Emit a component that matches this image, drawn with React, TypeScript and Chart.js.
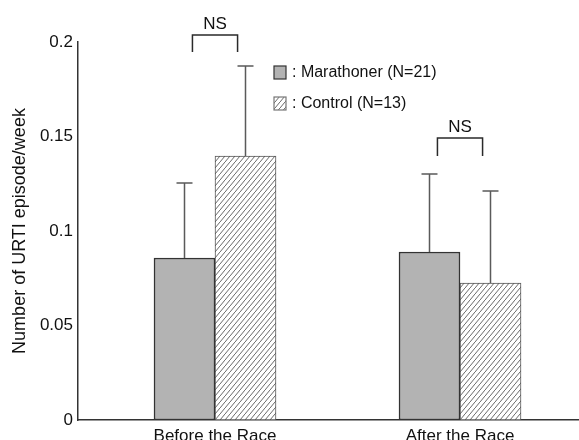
import React, { useEffect, useRef } from 'react';
import { Chart, registerables } from 'chart.js';

Chart.register(...registerables);

const categories = ['Before the Race', 'After the Race'];
const seriesNames = ['Marathoner (N=21)', 'Control (N=13)'];
const marathoner = [0.0857, 0.0889];
const control = [0.1397, 0.0725];
const marathonerErrTop = [0.1254, 0.1302];
const controlErrTop = [0.1873, 0.1212];
const yTicks = [0, 0.05, 0.1, 0.15, 0.2];
const sigLabels = ['NS', 'NS'];
const sigBracketTop = [0.2037, 0.1492];
const sigBracketLeg = [0.1947, 0.1397];

const FONT = "'Liberation Sans', Arial, Helvetica, sans-serif";
const GRAY = '#b3b3b3';

function makeHatch(): CanvasPattern | string {
  const w = 5;
  const h = 6;
  const c = document.createElement('canvas');
  c.width = w;
  c.height = h;
  const g = c.getContext('2d');
  if (!g) return '#fff';
  g.fillStyle = '#fff';
  g.fillRect(0, 0, w, h);
  g.strokeStyle = '#6a6a6a';
  g.lineWidth = 1;
  g.beginPath();
  g.moveTo(-w, 2 * h);
  g.lineTo(2 * w, -h);
  g.stroke();
  const p = g.createPattern(c, 'repeat');
  return p || '#fff';
}

export default function App() {
  const ref = useRef<HTMLCanvasElement | null>(null);

  useEffect(() => {
    if (!ref.current) return;
    const hatch = makeHatch();

    const overlay = {
      id: 'overlay',
      afterDatasetsDraw(chart: any) {
        const ctx = chart.ctx as CanvasRenderingContext2D;
        const y = chart.scales.y;
        ctx.save();
        // error bars
        [marathonerErrTop, controlErrTop].forEach((tops, d) => {
          const meta = chart.getDatasetMeta(d);
          meta.data.forEach((bar: any, i: number) => {
            const yt = y.getPixelForValue(tops[i]);
            ctx.strokeStyle = '#5a5a5a';
            ctx.lineWidth = 1.5;
            ctx.beginPath();
            ctx.moveTo(bar.x, bar.y);
            ctx.lineTo(bar.x, yt);
            ctx.moveTo(bar.x - 8, yt);
            ctx.lineTo(bar.x + 8, yt);
            ctx.stroke();
          });
        });
        // significance brackets
        categories.forEach((_, i) => {
          const b0 = chart.getDatasetMeta(0).data[i];
          const b1 = chart.getDatasetMeta(1).data[i];
          const inset = b0.width * 0.13;
          const x0 = b0.x + inset;
          const x1 = b1.x - inset;
          const yTop = y.getPixelForValue(sigBracketTop[i]);
          const yLeg = y.getPixelForValue(sigBracketLeg[i]);
          ctx.strokeStyle = '#2a2a2a';
          ctx.lineWidth = 1.5;
          ctx.beginPath();
          ctx.moveTo(x0, yLeg);
          ctx.lineTo(x0, yTop);
          ctx.lineTo(x1, yTop);
          ctx.lineTo(x1, yLeg);
          ctx.stroke();
          ctx.fillStyle = '#111';
          ctx.font = `17px ${FONT}`;
          ctx.textAlign = 'center';
          ctx.textBaseline = 'alphabetic';
          ctx.fillText(sigLabels[i], (x0 + x1) / 2, yTop - 6);
        });
        // legend
        const lx = chart.chartArea.left + 196;
        const fills = [GRAY, hatch];
        const borders = ['#333', '#777'];
        seriesNames.forEach((name, i) => {
          const by = chart.chartArea.top + 24 + i * 31;
          ctx.fillStyle = fills[i] as any;
          ctx.fillRect(lx, by, 12, 13);
          ctx.strokeStyle = borders[i];
          ctx.lineWidth = 1.2;
          ctx.strokeRect(lx, by, 12, 13);
          ctx.fillStyle = '#111';
          ctx.font = `16px ${FONT}`;
          ctx.textAlign = 'left';
          ctx.textBaseline = 'middle';
          ctx.fillText(': ' + name, lx + 18, by + 7);
        });
        ctx.restore();
      },
    };

    const chart = new Chart(ref.current, {
      type: 'bar',
      data: {
        datasets: [
          {
            label: seriesNames[0],
            data: marathoner.map((v, i) => ({ x: i, y: v })),
            backgroundColor: GRAY,
            borderColor: '#333',
            borderWidth: 1.5,
            borderSkipped: false,
            barThickness: 61,
          },
          {
            label: seriesNames[1],
            data: control.map((v, i) => ({ x: i, y: v })),
            backgroundColor: hatch as any,
            borderColor: '#555',
            borderWidth: 1,
            borderSkipped: false,
            barThickness: 61,
          },
        ],
      },
      options: {
        responsive: false,
        animation: false,
        layout: { padding: { top: 42, right: 0, left: 0, bottom: 0 } },
        plugins: {
          legend: { display: false },
          tooltip: { enabled: false },
        },
        scales: {
          x: {
            type: 'linear',
            offset: false,
            bounds: 'data',
            min: -0.5592,
            max: 1.4857,
            grid: { display: false, drawTicks: false, offset: false },
            border: { display: true, color: '#333', width: 1.5 },
            afterBuildTicks: (scale: any) => {
              scale.ticks = categories.map((_, i) => ({ value: i }));
            },
            afterFit: (scale: any) => {
              scale.height = 20;
            },
            ticks: {
              autoSkip: false,
              maxRotation: 0,
              padding: 6,
              color: '#111',
              font: { family: FONT, size: 17 },
              callback: (v: any) => categories[Math.round(Number(v))] ?? '',
            },
          },
          y: {
            type: 'linear',
            min: 0,
            max: 0.2,
            grid: { display: false, drawTicks: false },
            border: { display: true, color: '#333', width: 1.5 },
            afterBuildTicks: (scale: any) => {
              scale.ticks = yTicks.map((v) => ({ value: v }));
            },
            afterFit: (scale: any) => {
              scale.width = 78;
            },
            ticks: {
              padding: 5,
              color: '#111',
              font: { family: FONT, size: 17 },
              callback: (v: any) => String(Number(Number(v).toFixed(2))),
            },
            title: {
              display: true,
              text: 'Number of URTI episode/week',
              color: '#111',
              font: { family: FONT, size: 18 },
              padding: { top: 9, bottom: 0 },
            },
          },
        },
      },
      plugins: [overlay],
    } as any);

    return () => chart.destroy();
  }, []);

  return (
    <div style={{ position: 'fixed', left: 0, top: 0, width: 579, height: 440, background: '#fff' }}>
      <canvas ref={ref} width={579} height={440} />
    </div>
  );
}
